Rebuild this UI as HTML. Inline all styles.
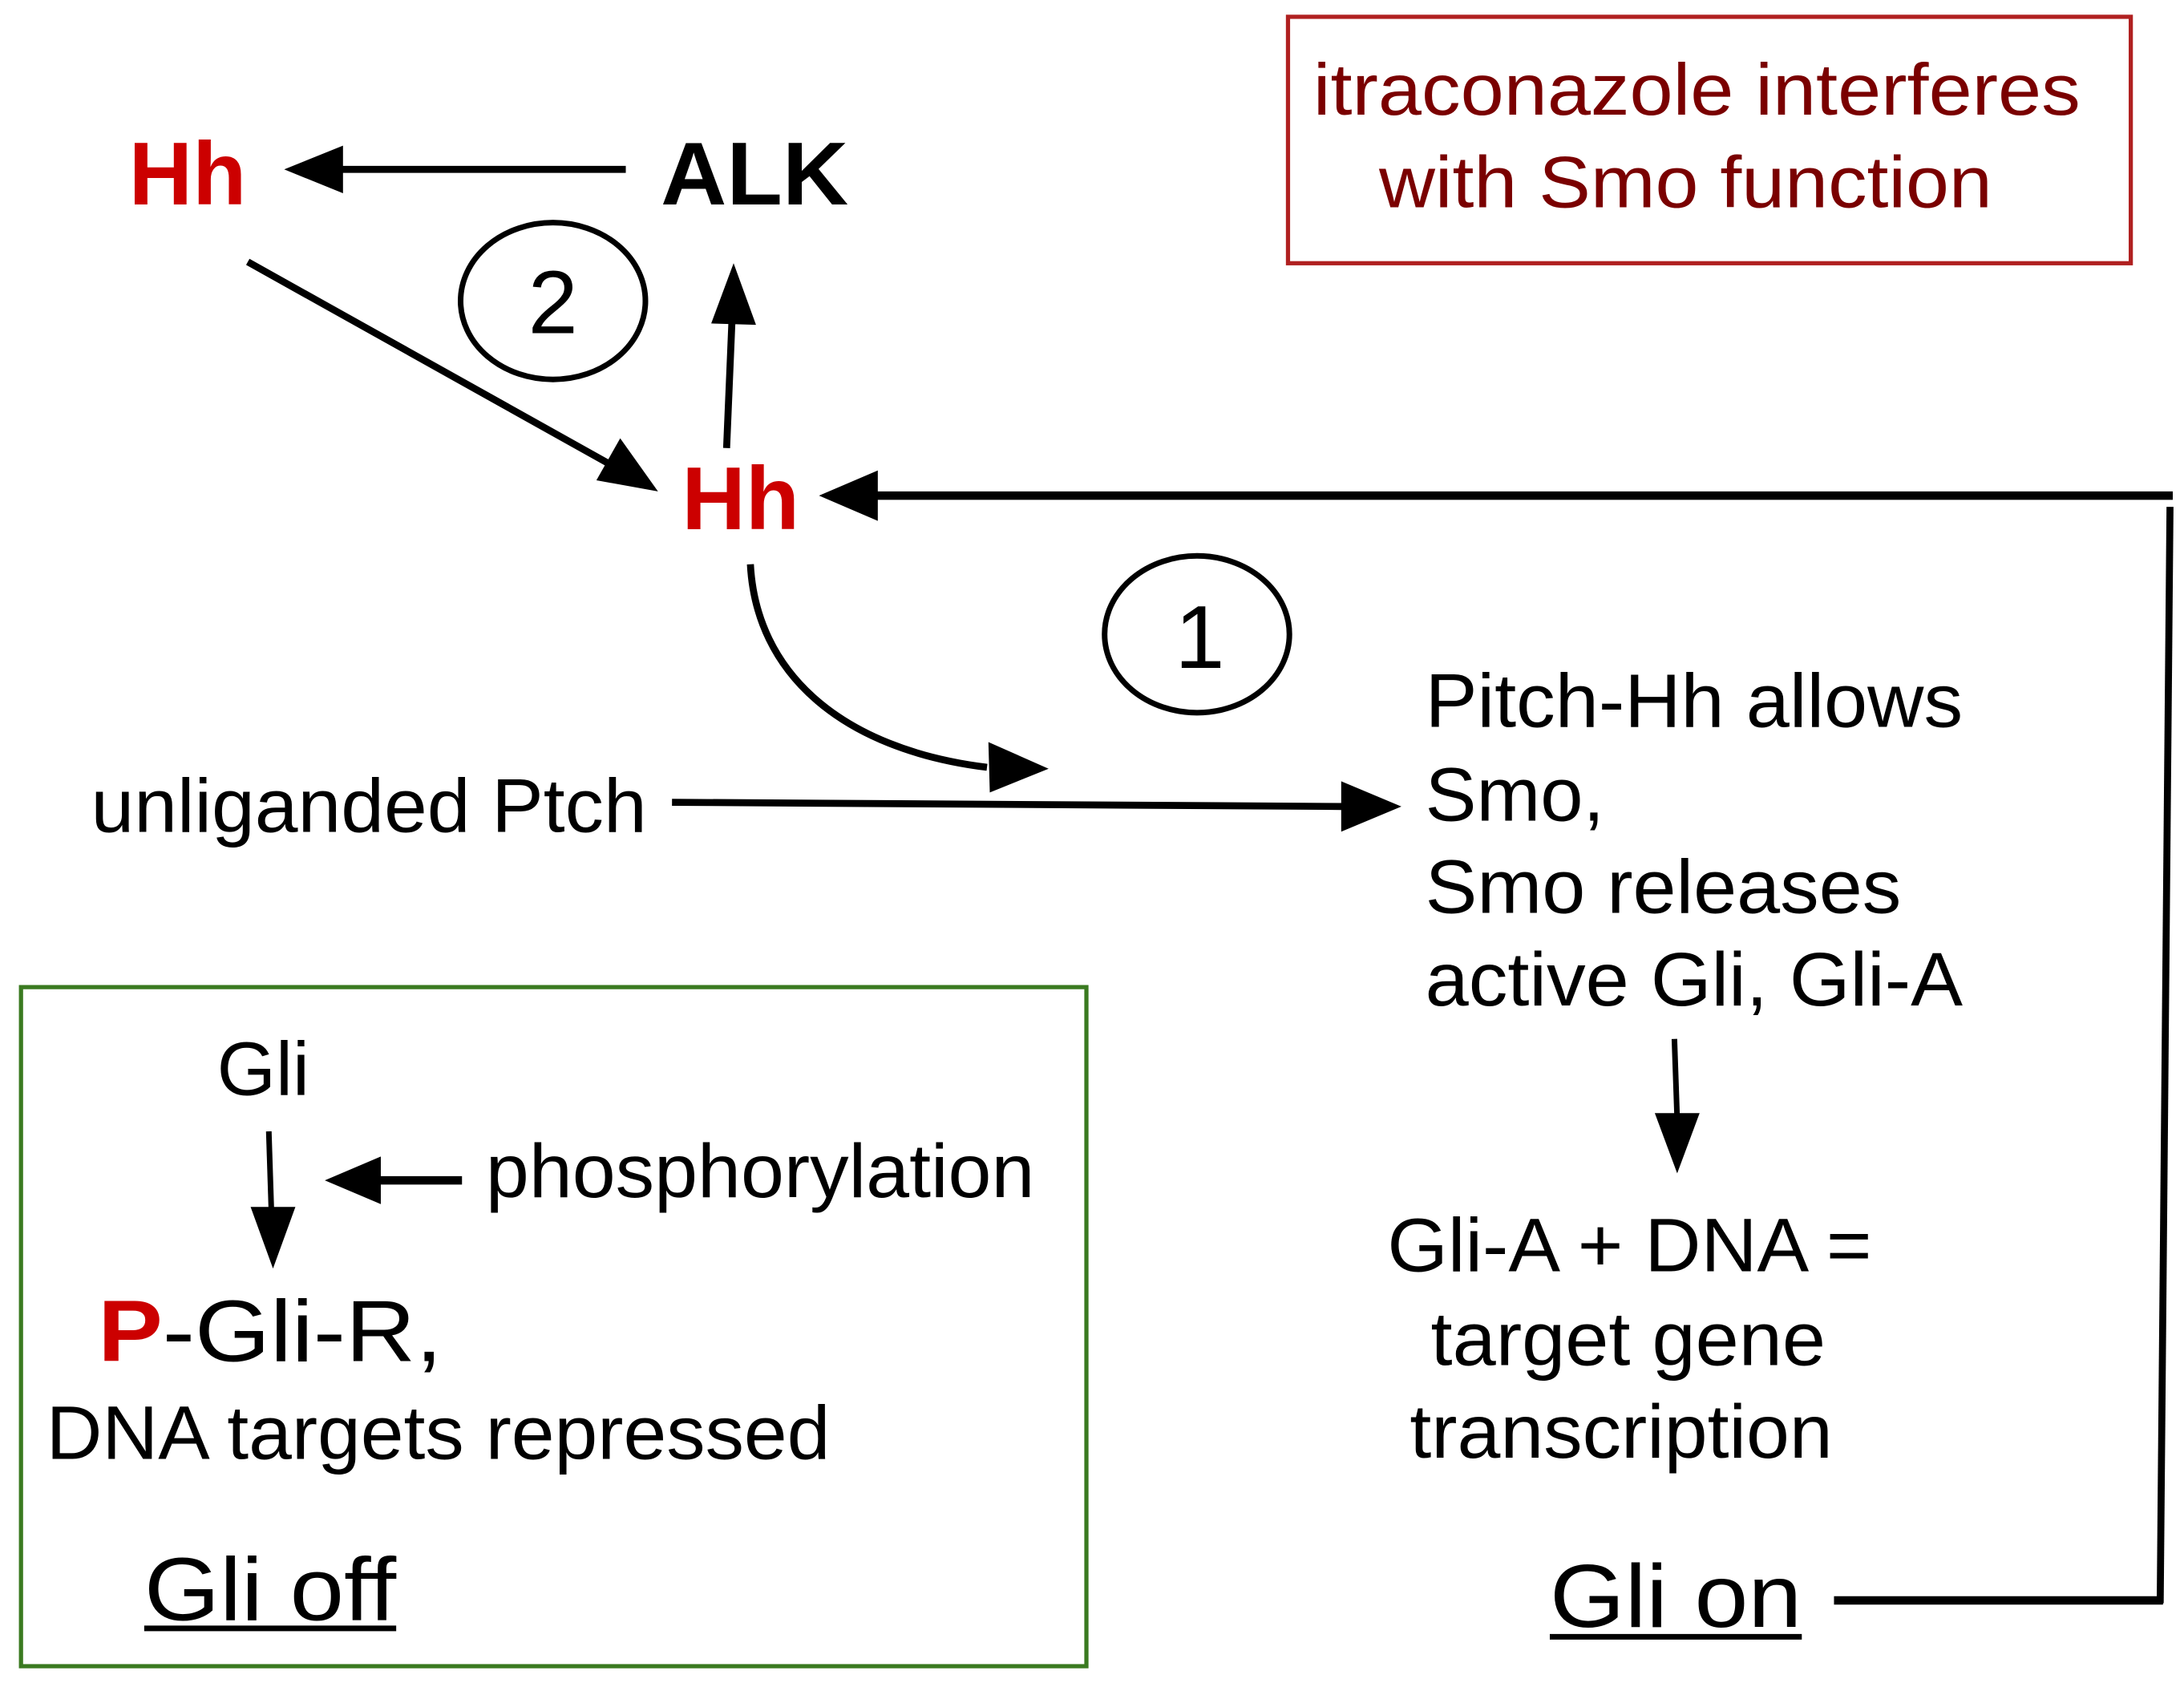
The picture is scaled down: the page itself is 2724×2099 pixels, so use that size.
<!DOCTYPE html>
<html><head><meta charset="utf-8"><style>html,body{margin:0;padding:0;background:#fff}svg{display:block}</style></head>
<body>
<svg width="2724" height="2099" viewBox="0 0 1560 1202" preserveAspectRatio="none" xmlns="http://www.w3.org/2000/svg" font-family="Liberation Sans, Arial, sans-serif">
<g stroke="#000" stroke-width="5" fill="none">
<line x1="447" y1="121" x2="240" y2="121"/>
<polygon points="203,121 245,104 245,138" fill="#000" stroke="none"/>
<line x1="177" y1="187" x2="440" y2="334"/>
<polygon points="470,351 426,343 443,313" fill="#000" stroke="none"/>
<line x1="519" y1="320" x2="523" y2="225"/>
<polygon points="524,188 540,232 508,231" fill="#000" stroke="none"/>
<line x1="1552" y1="354" x2="620" y2="354" stroke-width="6"/>
<polygon points="585,354 627,336 627,372" fill="#000" stroke="none"/>
<line x1="1550" y1="362" x2="1543" y2="1145" stroke-width="5"/>
<line x1="1310" y1="1143" x2="1545" y2="1143" stroke-width="6"/>
<path d="M536,403 C540,480 600,535 705,548"/>
<polygon points="749,549 707,566 706,530" fill="#000" stroke="none"/>
<line x1="480" y1="573" x2="960" y2="576" stroke-width="5"/>
<polygon points="1001,576 958,594 958,558" fill="#000" stroke="none"/>
<line x1="1196" y1="742" x2="1198" y2="800" stroke-width="4"/>
<polygon points="1198,838 1182,795 1214,795" fill="#000" stroke="none"/>
<line x1="192" y1="808" x2="194" y2="870" stroke-width="4"/>
<polygon points="195,906 179,862 211,862" fill="#000" stroke="none"/>
<line x1="330" y1="843" x2="270" y2="843" stroke-width="6"/>
<polygon points="232,843 272,826 272,860" fill="#000" stroke="none"/>
<ellipse cx="395" cy="215" rx="66" ry="56" stroke-width="4"/>
<ellipse cx="855" cy="453" rx="66" ry="56" stroke-width="4"/>
</g>
<rect x="920" y="12" width="602" height="176" fill="none" stroke="#b02020" stroke-width="3"/>
<rect x="15" y="705" width="761" height="485" fill="none" stroke="#3a7a20" stroke-width="3"/>
<g font-size="52" fill="#7a0000" lengthAdjust="spacingAndGlyphs">
<text x="938" y="82" textLength="548" lengthAdjust="spacingAndGlyphs">itraconazole interferes</text>
<text x="985" y="148" textLength="438" lengthAdjust="spacingAndGlyphs">with Smo function</text>
</g>
<g font-weight="bold" font-size="64">
<text x="92" y="146" fill="#cc0000" textLength="84" lengthAdjust="spacingAndGlyphs">Hh</text>
<text x="472" y="146" fill="#000" textLength="134" lengthAdjust="spacingAndGlyphs">ALK</text>
<text x="487" y="378" fill="#cc0000" textLength="84" lengthAdjust="spacingAndGlyphs">Hh</text>
</g>
<g font-size="64" text-anchor="middle">
<text x="395" y="238">2</text>
<text x="857" y="477">1</text>
</g>
<g font-size="54" fill="#000">
<text x="65" y="594" textLength="397" lengthAdjust="spacingAndGlyphs">unliganded Ptch</text>
<text x="1018" y="519" textLength="384" lengthAdjust="spacingAndGlyphs">Pitch-Hh allows</text>
<text x="1018" y="586" textLength="128" lengthAdjust="spacingAndGlyphs">Smo,</text>
<text x="1018" y="652" textLength="340" lengthAdjust="spacingAndGlyphs">Smo releases</text>
<text x="1018" y="718" textLength="384" lengthAdjust="spacingAndGlyphs">active Gli, Gli-A</text>
<text x="991" y="908" textLength="346" lengthAdjust="spacingAndGlyphs">Gli-A + DNA =</text>
<text x="1022" y="975" textLength="282" lengthAdjust="spacingAndGlyphs">target gene</text>
<text x="1007" y="1041" textLength="302" lengthAdjust="spacingAndGlyphs">transcription</text>
<text x="155" y="782" textLength="66" lengthAdjust="spacingAndGlyphs">Gli</text>
<text x="347" y="855" textLength="392" lengthAdjust="spacingAndGlyphs">phosphorylation</text>
<text x="33" y="1042" textLength="560" lengthAdjust="spacingAndGlyphs">DNA targets repressed</text>
</g>
<text x="70" y="972" font-size="62" textLength="246" lengthAdjust="spacingAndGlyphs"><tspan fill="#cc0000" font-weight="bold">P</tspan>-Gli-R,</text>
<g font-size="64">
<text x="103" y="1157" textLength="180" lengthAdjust="spacingAndGlyphs">Gli off</text>
<text x="1107" y="1162" textLength="180" lengthAdjust="spacingAndGlyphs">Gli on</text>
</g>
<line x1="103" y1="1163" x2="283" y2="1163" stroke="#000" stroke-width="4"/>
<line x1="1107" y1="1169" x2="1287" y2="1169" stroke="#000" stroke-width="4"/>
</svg>
</body></html>
